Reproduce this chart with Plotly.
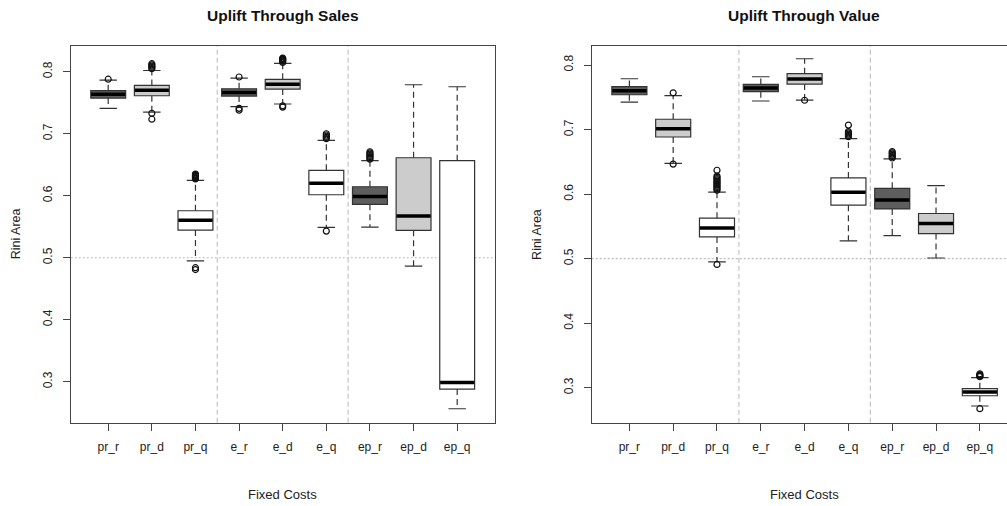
import plotly.graph_objects as go

categories = ["pr_r", "pr_d", "pr_q", "e_r", "e_d", "e_q", "ep_r", "ep_d", "ep_q"]
fill_colors = ["#5e5e5e", "#cccccc", "#ffffff"] * 3

# Uplift Through Sales: five-number summaries per category
sales_low = [0.741, 0.735, 0.495, 0.7436, 0.748, 0.549, 0.5495, 0.4866, 0.2565]
sales_q1 = [0.7576, 0.7613, 0.5447, 0.7608, 0.772, 0.6016, 0.5861, 0.5442, 0.2882]
sales_med = [0.7636, 0.770, 0.5603, 0.7667, 0.780, 0.620, 0.599, 0.5673, 0.299]
sales_q3 = [0.7694, 0.778, 0.5758, 0.7726, 0.7877, 0.641, 0.6145, 0.6613, 0.6565]
sales_high = [0.7866, 0.802, 0.6248, 0.7898, 0.8135, 0.6893, 0.6565, 0.779, 0.7758]
sales_outliers = [
    [0.788],
    [0.805, 0.807, 0.809, 0.811, 0.813, 0.733, 0.7235],
    [0.627, 0.628, 0.629, 0.630, 0.631, 0.632, 0.633, 0.634, 0.635, 0.484, 0.481],
    [0.7915, 0.741, 0.738],
    [0.815, 0.817, 0.818, 0.819, 0.820, 0.821, 0.822, 0.745, 0.743],
    [0.692, 0.694, 0.696, 0.698, 0.700, 0.543],
    [0.659, 0.661, 0.663, 0.665, 0.667, 0.669, 0.671],
    [],
    [],
]

# Uplift Through Value: five-number summaries per category
value_low = [0.7427, 0.6478, 0.495, 0.7443, 0.7458, 0.5276, 0.5358, 0.501, 0.2717]
value_q1 = [0.754, 0.6885, 0.5337, 0.7587, 0.7706, 0.5828, 0.5771, 0.5389, 0.2876]
value_med = [0.760, 0.7014, 0.5477, 0.7644, 0.7783, 0.603, 0.591, 0.5543, 0.2933]
value_q3 = [0.7667, 0.716, 0.5627, 0.770, 0.7866, 0.6251, 0.609, 0.570, 0.2985]
value_high = [0.7788, 0.7525, 0.603, 0.7819, 0.8098, 0.686, 0.6545, 0.6132, 0.3155]
value_outliers = [
    [],
    [0.757, 0.6465],
    [0.606, 0.608, 0.610, 0.612, 0.614, 0.616, 0.618, 0.620, 0.622, 0.624,
     0.626, 0.628, 0.637, 0.491],
    [],
    [0.7455],
    [0.689, 0.691, 0.693, 0.695, 0.697, 0.707],
    [0.656, 0.658, 0.660, 0.662, 0.664, 0.666],
    [],
    [0.317, 0.318, 0.319, 0.320, 0.3215, 0.2675],
]

panel_titles = ["Uplift Through Sales", "Uplift Through Value"]
x_title = "Fixed Costs"
y_title = "Rini Area"
y_ticks = [0.3, 0.4, 0.5, 0.6, 0.7, 0.8]
reference_level = 0.5
group_size = 3

BOX_W = 0.8
CAP_HALF = 0.2
FONT = "Liberation Sans, Arial, sans-serif"
INK = "#222222"
FRAME = "#444444"

fig = go.Figure()


def add_panel(fig, xa, ya, low, q1, med, q3, high, outliers):
    xs = list(range(len(categories)))
    for i in xs:
        fig.add_trace(go.Box(
            x=[i], q1=[q1[i]], median=[med[i]], q3=[q3[i]],
            lowerfence=[q1[i]], upperfence=[q3[i]],
            width=BOX_W, whiskerwidth=0, boxpoints=False,
            fillcolor=fill_colors[i],
            line=dict(color="#333333", width=1.2),
            xaxis=xa, yaxis=ya, showlegend=False, hoverinfo="skip",
        ))
    # dashed whiskers
    wx, wy = [], []
    for i in xs:
        wx += [i, i, None, i, i, None]
        wy += [q3[i], high[i], None, q1[i], low[i], None]
    fig.add_trace(go.Scatter(
        x=wx, y=wy, mode="lines", xaxis=xa, yaxis=ya,
        line=dict(color="#333333", width=1.2, dash="6px,4px"),
        showlegend=False, hoverinfo="skip",
    ))
    # whisker caps
    cx, cy = [], []
    for i in xs:
        cx += [i - CAP_HALF, i + CAP_HALF, None, i - CAP_HALF, i + CAP_HALF, None]
        cy += [high[i], high[i], None, low[i], low[i], None]
    fig.add_trace(go.Scatter(
        x=cx, y=cy, mode="lines", xaxis=xa, yaxis=ya,
        line=dict(color="#333333", width=1.2),
        showlegend=False, hoverinfo="skip",
    ))
    # thick medians
    mx, my = [], []
    for i in xs:
        mx += [i - BOX_W / 2 + 0.01, i + BOX_W / 2 - 0.01, None]
        my += [med[i], med[i], None]
    fig.add_trace(go.Scatter(
        x=mx, y=my, mode="lines", xaxis=xa, yaxis=ya,
        line=dict(color="#000000", width=3.5),
        showlegend=False, hoverinfo="skip",
    ))
    # outliers
    ox, oy = [], []
    for i in xs:
        for v in outliers[i]:
            ox.append(i)
            oy.append(v)
    fig.add_trace(go.Scatter(
        x=ox, y=oy, mode="markers", xaxis=xa, yaxis=ya,
        marker=dict(symbol="circle-open", size=6, color="#111111",
                    line=dict(width=1.2, color="#111111")),
        showlegend=False, hoverinfo="skip",
    ))
    # group separators and reference level
    n_groups = len(categories) // group_size
    for g in range(1, n_groups):
        fig.add_shape(type="line", xref=xa, yref=f"{ya} domain",
                      x0=g * group_size - 0.5, x1=g * group_size - 0.5, y0=0, y1=1,
                      line=dict(color="#c4c4c4", width=1.2, dash="5px,3px"), layer="below")
    fig.add_shape(type="line", xref=f"{xa} domain", yref=ya,
                  x0=0, x1=1, y0=reference_level, y1=reference_level,
                  line=dict(color="#bdbdbd", width=1.2, dash="2px,2px"), layer="below")


add_panel(fig, "x", "y", sales_low, sales_q1, sales_med, sales_q3, sales_high, sales_outliers)
add_panel(fig, "x2", "y2", value_low, value_q1, value_med, value_q3, value_high, value_outliers)

W, H = 1007, 506
y_dom = [(H - 422.7) / H, (H - 45.7) / H]

xaxis_common = dict(
    tickmode="array", tickvals=list(range(len(categories))), ticktext=categories,
    ticks="outside", ticklen=7, tickwidth=1, tickcolor=FRAME,
    showline=True, linecolor=FRAME, linewidth=1.2, mirror=True,
    showgrid=False, zeroline=False,
    tickfont=dict(family=FONT, size=12, color=INK), ticklabelstandoff=6,
)
yaxis_common = dict(
    tickmode="array", tickvals=y_ticks, ticktext=[f"{v:.1f}" for v in y_ticks],
    ticks="outside", ticklen=7, tickwidth=1, tickcolor=FRAME,
    showline=True, linecolor=FRAME, linewidth=1.2,
    showgrid=False, zeroline=False, tickangle=-90,
    tickfont=dict(family=FONT, size=12, color=INK), ticklabelstandoff=6,
)

fig.update_layout(
    width=W, height=H,
    margin=dict(l=0, r=0, t=0, b=0),
    paper_bgcolor="white", plot_bgcolor="white",
    xaxis=dict(xaxis_common, domain=[70.7 / W, 494.7 / W], range=[-0.86, 8.86],
               anchor="y"),
    yaxis=dict(yaxis_common, domain=y_dom, range=[0.234, 0.842], mirror=True,
               anchor="x"),
    xaxis2=dict(xaxis_common, domain=[591.7 / W, 1.0], range=[-0.86, 8.62],
                anchor="y2"),
    yaxis2=dict(yaxis_common, domain=y_dom, range=[0.2458, 0.830], mirror=False,
                anchor="x2"),
    showlegend=False,
)

# panel titles and axis titles
title_centers = [282.7 / W, 804.0 / W]
ylabel_x = [16.0 / W, 536.7 / W]
for k in range(2):
    fig.add_annotation(
        text=f"<b>{panel_titles[k]}</b>", xref="paper", yref="paper",
        x=title_centers[k], y=1 - 15.0 / H, showarrow=False,
        xanchor="center", yanchor="middle",
        font=dict(family=FONT, size=15.5, color="#111111"),
    )
    fig.add_annotation(
        text=x_title, xref="paper", yref="paper",
        x=title_centers[k], y=1 - 494.0 / H, showarrow=False,
        xanchor="center", yanchor="middle",
        font=dict(family=FONT, size=13, color=INK),
    )
    fig.add_annotation(
        text=y_title, xref="paper", yref="paper", textangle=-90,
        x=ylabel_x[k], y=1 - 234.2 / H, showarrow=False,
        xanchor="center", yanchor="middle",
        font=dict(family=FONT, size=12.5, color=INK),
    )

fig.write_html("out.html")
